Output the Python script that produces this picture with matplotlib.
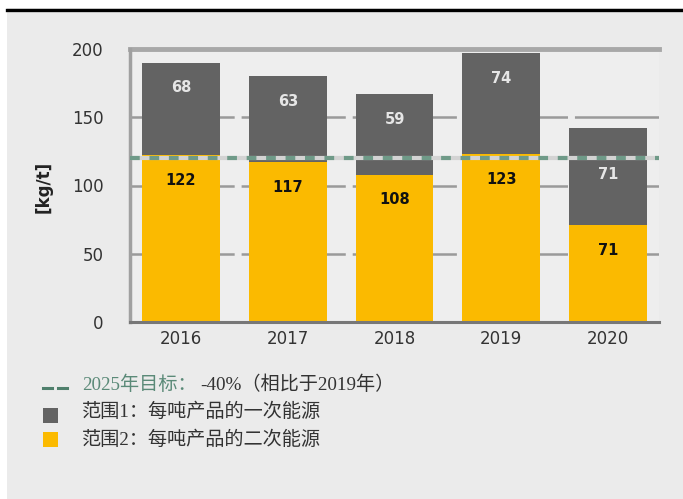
import matplotlib
matplotlib.use("Agg")
import matplotlib.pyplot as plt
from matplotlib.patches import Rectangle
from matplotlib.lines import Line2D

years = ["2016", "2017", "2018", "2019", "2020"]
scope2 = [122, 117, 108, 123, 71]   # secondary energy per ton (yellow)
scope1 = [68, 63, 59, 74, 71]       # primary energy per ton (grey)
target_2025 = 120
yticks = [0, 50, 100, 150, 200]

legend_target_a = "2025年目标："
legend_target_b = "-40%（相比于2019年）"
legend_scope1 = "范围1：每吨产品的一次能源"
legend_scope2 = "范围2：每吨产品的二次能源"

YELLOW = "#FBBA00"
GREY = "#636363"
GREEN = "#6F9A88"
TEXT = "#333333"

plt.rcParams["lines.scale_dashes"] = False
cjk = ["Liberation Serif", "Noto Sans CJK SC"]

fig = plt.figure(figsize=(6.83, 4.99), dpi=100, facecolor="white")
W, H = 683, 499

# grey panel and black rule on top
fig.patches.append(Rectangle((7 / W, 0), 1, 1 - 8 / H, transform=fig.transFigure,
                             facecolor="#EBEBEB", edgecolor="none", zorder=-10))
fig.lines.append(Line2D([7 / W, 1], [1 - 9.5 / H, 1 - 9.5 / H], transform=fig.transFigure,
                        color="black", lw=2.4, zorder=-5))

ax = fig.add_axes([130 / W, 1 - 322 / H, (659 - 130) / W, (322 - 49) / H])
ax.set_facecolor("#EEEEEE")

x = list(range(len(years)))
ax.set_xlim(-0.478, 4.478)
ax.set_ylim(0, 200)

# grid lines
for v in yticks[1:-1]:
    ax.axhline(v, color="#9A9A9A", lw=1.8, ls=(0, (75, 5)), zorder=1)
ax.axhline(200, color="#A8A8A8", lw=3.5, zorder=1, clip_on=False)
ax.axhline(0, color="#777777", lw=2.2, zorder=4, clip_on=False)

bw = 0.73
ax.bar(x, scope2, width=bw, color=YELLOW, zorder=2)
ax.bar(x, scope1, width=bw, bottom=scope2, color=GREY, zorder=2)

for i in x:
    ax.annotate(str(scope2[i]), (i, scope2[i]), xytext=(0, -18), textcoords="offset points",
                ha="center", va="center", fontsize=10.5, fontweight="bold", color="#111111", zorder=5)
    top = scope2[i] + scope1[i]
    # keep the grey label clear of the target line
    off = -18 if top - 30 > target_2025 else -33
    ax.annotate(str(scope1[i]), (i, top), xytext=(0, off), textcoords="offset points",
                ha="center", va="center", fontsize=10.5, fontweight="bold", color="#E6E6E6", zorder=5)

# 2025 target line
ax.axhline(target_2025, color="#D3D3D3", lw=3, zorder=3)
ax.axhline(target_2025, color=GREEN, lw=3, ls=(0, (7, 7)), zorder=3)

for s in ["top", "right", "bottom"]:
    ax.spines[s].set_visible(False)
ax.spines["left"].set_color("#A0A0A0")
ax.spines["left"].set_linewidth(2.5)

ax.set_xticks(x)
ax.set_xticklabels(years)
ax.set_yticks(yticks)
ax.tick_params(length=0, labelsize=12, labelcolor="#333333")
ax.tick_params(axis="x", pad=6)
ax.tick_params(axis="y", pad=19)

fig.text(44 / W, 1 - 187 / H, "[kg/t]", rotation=90, ha="center", va="center",
         fontsize=12, fontweight="bold", color="#222222")

# legend
y1, y2, y3 = 1 - 385 / H, 1 - 412 / H, 1 - 440 / H
fig.lines.append(Line2D([43 / W, 52 / W], [1 - 388 / H] * 2, transform=fig.transFigure,
                        color="#4F7F6C", lw=2.2))
fig.lines.append(Line2D([58 / W, 67 / W], [1 - 388 / H] * 2, transform=fig.transFigure,
                        color="#4F7F6C", lw=2.2))
fig.patches.append(Rectangle((43 / W, 1 - 423 / H), 15 / W, 15 / H, transform=fig.transFigure,
                             facecolor=GREY, edgecolor="none"))
fig.patches.append(Rectangle((43 / W, 1 - 447 / H), 15 / W, 15 / H, transform=fig.transFigure,
                             facecolor=YELLOW, edgecolor="none"))

fs = 13.8
t1 = fig.text(82 / W, y1, legend_target_a, family=cjk, fontsize=fs, color="#5B8A78",
              va="center")
fig.text(82 / W, y2, legend_scope1, family=cjk, fontsize=fs, color=TEXT, va="center")
fig.text(82 / W, y3, legend_scope2, family=cjk, fontsize=fs, color=TEXT, va="center")
fig.canvas.draw()
bb = t1.get_window_extent()
fig.text(bb.x1 / W + 4 / W, y1, legend_target_b, family=cjk, fontsize=fs, color=TEXT, va="center")

fig.savefig("out.png", dpi=100, facecolor=fig.get_facecolor())
